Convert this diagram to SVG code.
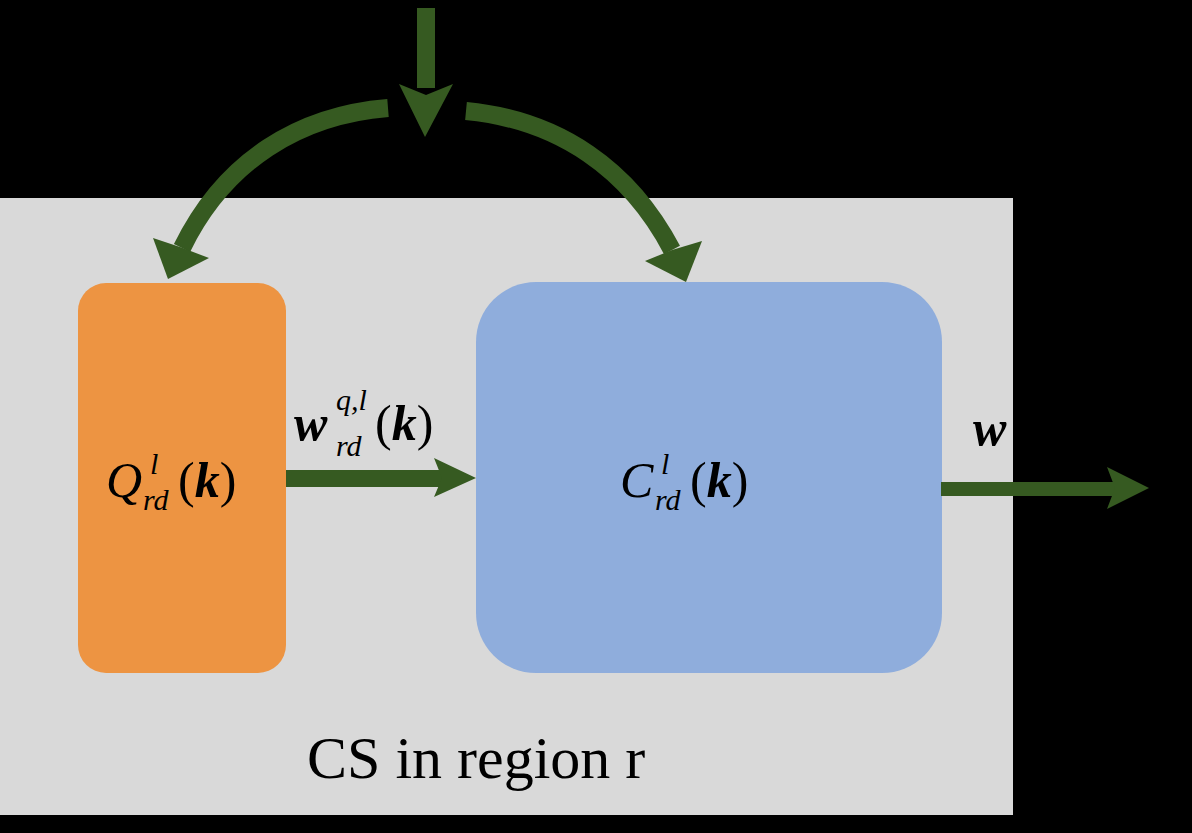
<svg xmlns="http://www.w3.org/2000/svg" width="1192" height="833" viewBox="0 0 1192 833">
<style>
.m{font-family:"Liberation Serif","DejaVu Serif",serif;font-style:italic;fill:#000}
.u{font-family:"Liberation Serif","DejaVu Serif",serif;fill:#000}
.b{font-weight:bold}
.c{fill:none;stroke:#365a21;stroke-width:18}
.h{fill:#365a21}
</style>
<rect width="1192" height="833" fill="#000"/>
<rect id="region" x="0" y="198" width="1013" height="617" fill="#d9d9d9"/>
<g id="Q"><rect x="78" y="283" width="208" height="390" rx="28" fill="#ed9442"/>
<text class="m" x="106" y="497" font-size="50">Q</text>
<text class="m" x="150" y="474" font-size="30">l</text>
<text class="m" x="143" y="510" font-size="30">rd</text>
<text class="u" x="178" y="497" font-size="50">(<tspan class="m b">k</tspan>)</text></g>
<g id="C"><rect x="476" y="282" width="466" height="391" rx="60" fill="#8faddc"/>
<text class="m" x="620" y="497" font-size="50">C</text>
<text class="m" x="661" y="474" font-size="30">l</text>
<text class="m" x="655" y="510" font-size="30">rd</text>
<text class="u" x="690" y="497" font-size="50">(<tspan class="m b">k</tspan>)</text></g>
<text class="m b" x="294" y="440" font-size="50">w</text>
<text class="m" x="336" y="410" font-size="30">q,l</text>
<text class="m" x="336" y="456" font-size="30">rd</text>
<text class="u" x="375" y="440" font-size="50">(<tspan class="m b">k</tspan>)</text>
<text class="m b" x="973" y="445" font-size="50">w</text>
<text x="307" y="778" font-family="Liberation Serif,serif" font-size="60">CS in region r</text>
<g id="connectors">
<rect class="h" x="417" y="8" width="18" height="80"/>
<polygon class="h" points="399,84 426,95 453,84 425,137"/>
<path class="c" d="M388,108 C300,115 225,160 182,248"/>
<polygon class="h" points="153,238 180,247 209,258 168,279"/>
<path class="c" d="M466,111 C560,120 630,170 672,250"/>
<polygon class="h" points="645,261 672,250 702,241 686,282"/>
<rect class="h" x="286" y="470" width="160" height="17"/>
<polygon class="h" points="434,458 476,478 434,497 442,478"/>
<rect class="h" x="941" y="482" width="175" height="14"/>
<polygon class="h" points="1107,467 1149,488 1107,509 1115,488"/>
</g>
</svg>
